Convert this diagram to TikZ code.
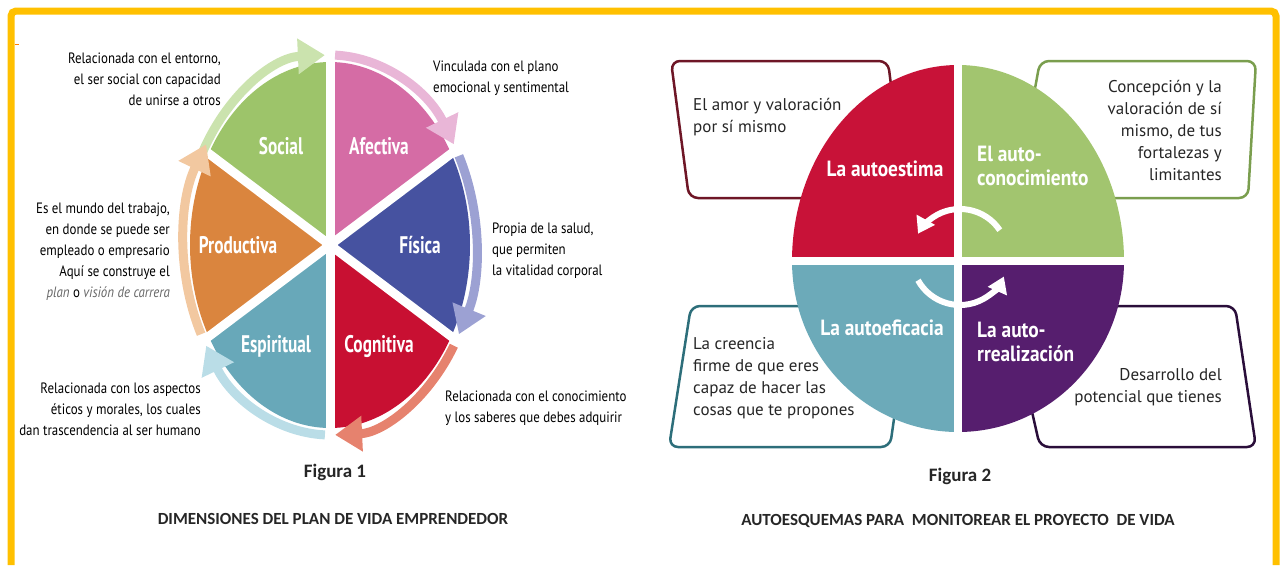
\documentclass[tikz,border=0pt]{standalone}
\usepackage{fontspec}
\setmainfont{PT Sans}
\newfontfamily\descfont[FakeStretch=0.86]{PT Sans}
\newfontfamily\labfont[FakeStretch=0.72]{PT Sans}
\newfontfamily\qfont[FakeStretch=0.88]{PT Sans}
\newfontfamily\capfont{Carlito}
\usetikzlibrary{arrows.meta,calc}
\definecolor{yel}{HTML}{FFC000}
\definecolor{socC}{HTML}{9DC46A}
\definecolor{afeC}{HTML}{D56CA5}
\definecolor{fisC}{HTML}{4652A0}
\definecolor{cogC}{HTML}{C81032}
\definecolor{espC}{HTML}{68A8B9}
\definecolor{proC}{HTML}{DA853E}
\definecolor{socA}{HTML}{CBE3AE}
\definecolor{afeA}{HTML}{E9B6D7}
\definecolor{fisA}{HTML}{9CA1D3}
\definecolor{cogA}{HTML}{E6826E}
\definecolor{espA}{HTML}{BADDE7}
\definecolor{proA}{HTML}{F2C8A0}
\definecolor{qred}{HTML}{C81238}
\definecolor{qgreen}{HTML}{A2C56F}
\definecolor{qteal}{HTML}{6CAAB9}
\definecolor{qpurp}{HTML}{561E6E}
\definecolor{bred}{HTML}{6E1626}
\definecolor{bgreen}{HTML}{7A9E4E}
\definecolor{bteal}{HTML}{2D6E7A}
\definecolor{bpurp}{HTML}{2A0E3A}
\tikzset{
 desc/.style={font=\descfont\fontsize{15}{21}\selectfont, inner sep=0pt, text=black},
 desctwo/.style={font=\fontsize{17}{22}\selectfont, inner sep=0pt, text=black!85},
 lab/.style={font=\labfont\bfseries\fontsize{24}{24}\selectfont, text=white, inner sep=0pt},
 qlab/.style={font=\qfont\bfseries\fontsize{22}{24}\selectfont, text=white, inner sep=0pt},
 figcap/.style={font=\capfont\bfseries\fontsize{19}{22}\selectfont, inner sep=0pt, text=black!85},
 figtitle/.style={font=\capfont\bfseries\fontsize{17}{20}\selectfont, inner sep=0pt, text=black!85},
 gapline/.style={white, line width=9pt},
 wheelarrow/.style={line width=9pt, -{Triangle[width=34pt,length=27pt]}},
 whitearrow/.style={white, line width=6pt, -{Triangle[width=20pt,length=16pt]}},
 tbox/.style={line width=2.5pt, rounded corners=9pt, fill=white},
}
\begin{document}
\begin{tikzpicture}[x=1pt,y=1pt]
\useasboundingbox (0,0) rectangle (1284,-565);
% frame
\draw[yel, line width=7pt, rounded corners=5pt] (11,-565) -- (11,-11) -- (1276,-11) -- (1276,-565);
\draw[orange, line width=1pt] (15,-44) -- (19,-44);

% ---------------- Figure 1 ----------------
\coordinate (C1) at (330,-245);
\fill[socC] (C1) -- ($(C1)+(150:140 and 183)$) arc[start angle=150, end angle=90, x radius=140, y radius=183] -- cycle;
\fill[afeC] (C1) -- ($(C1)+(90:140 and 183)$) arc[start angle=90, end angle=30, x radius=140, y radius=183] -- cycle;
\fill[fisC] (C1) -- ($(C1)+(30:140 and 183)$) arc[start angle=30, end angle=-30, x radius=140, y radius=183] -- cycle;
\fill[cogC] (C1) -- ($(C1)+(-30:140 and 183)$) arc[start angle=-30, end angle=-90, x radius=140, y radius=183] -- cycle;
\fill[espC] (C1) -- ($(C1)+(-90:140 and 183)$) arc[start angle=-90, end angle=-150, x radius=140, y radius=183] -- cycle;
\fill[proC] (C1) -- ($(C1)+(-150:140 and 183)$) arc[start angle=-150, end angle=-210, x radius=140, y radius=183] -- cycle;
\foreach \a in {90,30,-30,-90,-150,150}{
  \draw[gapline] (C1) -- ($(C1)+(\a:150 and 196)$);
}
\draw[wheelarrow, socA] ($(C1)+(152:146 and 190)$) arc[start angle=152, end angle=92, x radius=146, y radius=190];
\draw[wheelarrow, afeA] ($(C1)+(88:146 and 190)$) arc[start angle=88, end angle=32, x radius=146, y radius=190];
\draw[wheelarrow, fisA] ($(C1)+(28:146 and 190)$) arc[start angle=28, end angle=-28, x radius=146, y radius=190];
\draw[wheelarrow, cogA] ($(C1)+(-32:146 and 190)$) arc[start angle=-32, end angle=-88, x radius=146, y radius=190];
\draw[wheelarrow, espA] ($(C1)+(-92:146 and 190)$) arc[start angle=-92, end angle=-148, x radius=146, y radius=190];
\draw[wheelarrow, proA] ($(C1)+(-152:146 and 190)$) arc[start angle=-152, end angle=-212, x radius=146, y radius=190];

\node[lab] (lsoc) at (281,-146) {Social};
\node[lab] (lafe) at (379,-146) {Afectiva};
\node[lab] (lfis) at (420,-245) {Física};
\node[lab] (lpro) at (238,-245) {Productiva};
\node[lab] (lesp) at (276,-346) {Espiritual};
\node[lab] (lcog) at (379,-346) {Cognitiva};

\node[desc, anchor=east, align=right] (tsoc) at (221,-79) {Relacionada con el entorno,\\el ser social con capacidad\\de unirse a otros};
\node[desc, anchor=west, align=left] (tafe) at (433,-78) {Vinculada con el plano\\emocional y sentimental};
\node[desc, anchor=east, align=right] (tpro) at (170,-252) {Es el mundo del trabajo,\\en donde se puede ser\\empleado o empresario\\Aquí se construye el\\{\color{black!60}\itshape plan} o {\color{black!60}\itshape visión de carrera}};
\node[desc, anchor=west, align=left] (tfis) at (492,-251) {Propia de la salud,\\que permiten\\la vitalidad corporal};
\node[desc, anchor=east, align=right] (tesp) at (201,-409) {Relacionada con los aspectos\\éticos y morales, los cuales\\dan trascendencia al ser humano};
\node[desc, anchor=west, align=left] (tcog) at (445,-408) {Relacionada con el conocimiento\\y los saberes que debes adquirir};

\node[figcap] (fig1) at (335,-472) {Figura 1};
\node[figtitle] (tit1) at (333,-519) {DIMENSIONES DEL PLAN DE VIDA EMPRENDEDOR};

% ---------------- Figure 2 ----------------
\draw[tbox, draw=bred] (671,-61) -- (888,-61) -- (905,-198) -- (689,-198) -- cycle;
\draw[tbox, draw=bgreen] (1040,-61) -- (1256,-61) -- (1248,-198) -- (1015,-198) -- cycle;
\draw[tbox, draw=bteal] (691,-306) -- (910,-306) -- (890,-447) -- (669,-447) -- cycle;
\draw[tbox, draw=bpurp] (1008,-306) -- (1235,-306) -- (1256,-447) -- (1040,-447) -- cycle;

\coordinate (C2) at (958,-261);
\fill[qred] (C2) -- ($(C2)+(-166,0)$) arc[start angle=180, end angle=90, x radius=166, y radius=196] -- cycle;
\fill[qgreen] (C2) -- ($(C2)+(0,196)$) arc[start angle=90, end angle=0, x radius=166, y radius=196] -- cycle;
\fill[qpurp] (C2) -- ($(C2)+(166,0)$) arc[start angle=0, end angle=-90, x radius=166, y radius=171] -- cycle;
\fill[qteal] (C2) -- ($(C2)+(0,-171)$) arc[start angle=-90, end angle=-180, x radius=166, y radius=171] -- cycle;
\draw[white, line width=8pt] ($(C2)+(0,200)$) -- ($(C2)+(0,-175)$);
\draw[white, line width=8pt] ($(C2)+(-170,0)$) -- ($(C2)+(170,0)$);

\coordinate (C3) at (960,-257);
\draw[whitearrow] ($(C3)+(34:48)$) arc[start angle=34, end angle=151, radius=48];
\draw[whitearrow] ($(C3)+(209:48)$) arc[start angle=209, end angle=336, radius=48];

\node[qlab] (qa) at (885,-169) {La autoestima};
\node[qlab, anchor=west, align=left] (qb) at (977,-166) {El auto-\\conocimiento};
\node[qlab] (qc) at (882,-328) {La autoeficacia};
\node[qlab, anchor=west, align=left] (qd) at (977,-342) {La auto-\\rrealización};

\node[desctwo, anchor=west, align=left] (da) at (693,-117) {El amor y valoración\\por sí mismo};
\node[desctwo, anchor=east, align=right] (db) at (1222,-130) {Concepción y la\\valoración de sí\\mismo, de tus\\fortalezas y\\limitantes};
\node[desctwo, anchor=west, align=left] (dc) at (693,-378) {La creencia\\firme de que eres\\capaz de hacer las\\cosas que te propones};
\node[desctwo, anchor=east, align=right] (dd) at (1222,-387) {Desarrollo del\\potencial que tienes};

\node[figcap] (fig2) at (960,-476) {Figura 2};
\node[figtitle] (tit2) at (958,-521) {AUTOESQUEMAS PARA~~MONITOREAR EL PROYECTO~~DE VIDA};
\end{tikzpicture}
\end{document}
